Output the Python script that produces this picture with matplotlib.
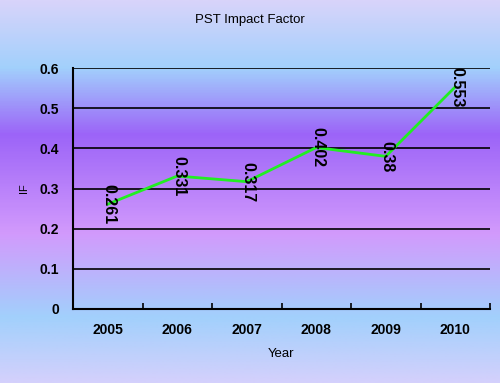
import numpy as np
import matplotlib
matplotlib.use("Agg")
from matplotlib import pyplot as plt
from matplotlib.colors import LinearSegmentedColormap

years = ["2005", "2006", "2007", "2008", "2009", "2010"]
impact = [0.261, 0.331, 0.317, 0.402, 0.38, 0.553]
y_ticks = [0, 0.1, 0.2, 0.3, 0.4, 0.5, 0.6]

plt.rcParams["font.family"] = ["Liberation Sans", "DejaVu Sans"]

fig = plt.figure(figsize=(5, 3.83), dpi=100)

# background gradient over the whole figure (top to bottom)
bg = fig.add_axes([0, 0, 1, 1], zorder=0)
stops = [(0.0, "#d8d4fa"), (0.175, "#a2d0fc"), (0.35, "#9c64f8"),
         (0.61, "#d29afc"), (0.83, "#a2d0fc"), (1.0, "#d4d0fc")]
cmap = LinearSegmentedColormap.from_list("bg", stops)
grad = np.linspace(0, 1, 400).reshape(-1, 1)
bg.imshow(grad, aspect="auto", cmap=cmap, extent=[0, 1, 0, 1])
bg.axis("off")

ax = fig.add_axes([73 / 500, 1 - 309 / 383, 417 / 500, 241 / 383], zorder=1)
ax.patch.set_alpha(0)

x = np.arange(len(years))
ax.plot(x, impact, color="#22ee22", lw=2, zorder=3)
for xi, v in zip(x, impact):
    ax.text(xi + 0.02, v, str(v), rotation=270, ha="center", va="center",
            fontsize=11.5, fontweight="bold", color="black", zorder=4)

ax.set_xlim(-0.5, len(years) - 0.5)
ax.set_ylim(0, 0.6)
ax.set_yticks(y_ticks)
ax.set_yticklabels(["0", "0.1", "0.2", "0.3", "0.4", "0.5", "0.6"],
                   fontsize=10, fontweight="bold")
ax.tick_params(axis="y", length=0, pad=10)
ax.set_xticks(x)
ax.set_xticklabels(years, fontsize=10, fontweight="bold")
ax.tick_params(axis="x", length=0, pad=10)
ax.set_xticks(np.arange(0.5, len(years), 1), minor=True)
ax.tick_params(axis="x", which="minor", direction="in", length=4, width=1.2)

ax.grid(axis="y", color="black", lw=1.2)
ax.set_axisbelow(True)
for s in ["top", "right"]:
    ax.spines[s].set_visible(False)
for s in ["left", "bottom"]:
    ax.spines[s].set_linewidth(1.5)

ax.set_xlabel("Year", fontsize=9.5, labelpad=8)
ax.set_ylabel("IF", fontsize=8, labelpad=8)
fig.text(0.5, 1 - 20 / 383, "PST Impact Factor", ha="center", va="center",
         fontsize=9.5)

fig.savefig("out.png", dpi=100)
